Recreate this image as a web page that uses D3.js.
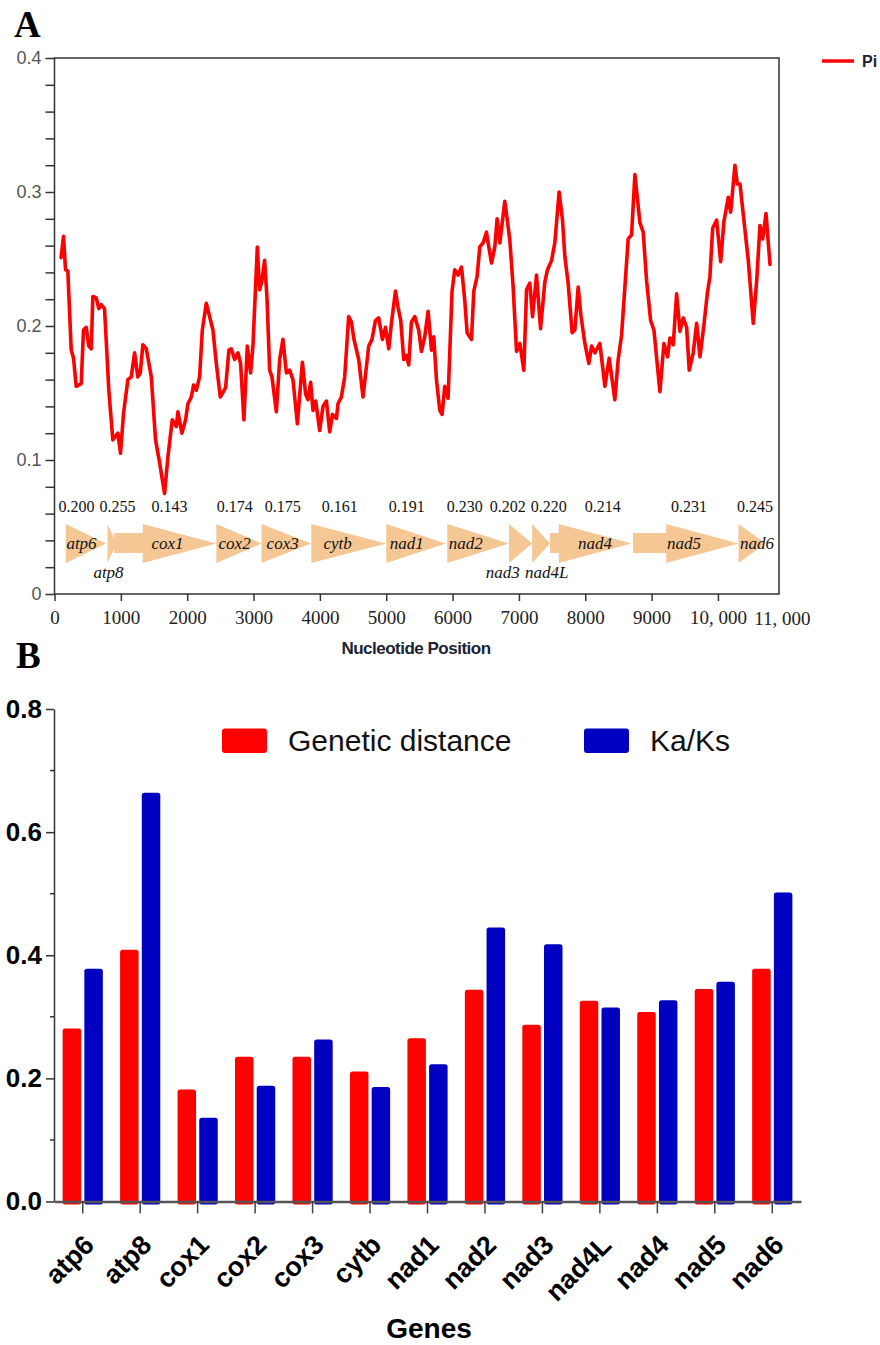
<!DOCTYPE html>
<html>
<head>
<meta charset="utf-8">
<script src="https://cdn.jsdelivr.net/npm/d3@7"></script>
<style>
  html, body { margin: 0; padding: 0; background: #fff; }
  svg { display: block; }
</style>
</head>
<body>
<svg id="chart" width="880" height="1345"></svg>
<script>
// ---------- Panel A data ----------
const piPos = [100,136,166,201,252,287,327,403,437,478,517,554,578,629,668,704,754,819,879,955,995,1041,1106,1157,1207,1256,1293,1332,1383,1459,1523,1584,1659,1709,1775,1836,1860,1920,1976,2011,2062,2097,2137,2187,2228,2288,2388,2439,2499,2579,2629,2665,2715,2765,2805,2855,2906,2956,2991,3057,3092,3127,3167,3202,3243,3278,3344,3394,3443,3495,3544,3594,3661,3736,3786,3821,3861,3896,3937,3997,4047,4098,4148,4189,4249,4273,4324,4374,4434,4475,4514,4585,4650,4691,4736,4786,4837,4887,4943,4988,5038,5078,5139,5178,5219,5264,5305,5339,5380,5430,5490,5531,5581,5631,5682,5716,5757,5807,5842,5882,5932,5992,6033,6083,6134,6184,6219,6285,6320,6370,6410,6460,6511,6546,6587,6637,6671,6712,6787,6822,6863,6913,6964,7014,7074,7115,7164,7205,7265,7326,7391,7431,7492,7541,7606,7657,7692,7742,7802,7843,7893,7934,7994,8054,8095,8145,8220,8296,8360,8446,8496,8547,8647,8698,8748,8824,8873,8924,8985,9035,9084,9125,9186,9241,9276,9326,9377,9427,9477,9528,9567,9627,9679,9729,9789,9839,9879,9920,9980,10041,10090,10155,10192,10256,10291,10332,10382,10457,10532,10584,10633,10674,10724,10784];
const piVal = [0.251,0.267,0.242,0.241,0.182,0.176,0.155,0.157,0.197,0.199,0.185,0.183,0.222,0.221,0.213,0.216,0.213,0.152,0.115,0.120,0.105,0.135,0.160,0.162,0.180,0.162,0.165,0.186,0.183,0.162,0.115,0.098,0.075,0.102,0.130,0.125,0.136,0.120,0.130,0.142,0.147,0.156,0.152,0.162,0.197,0.217,0.197,0.172,0.147,0.154,0.182,0.183,0.175,0.180,0.172,0.130,0.185,0.165,0.185,0.259,0.227,0.234,0.249,0.222,0.167,0.162,0.136,0.175,0.190,0.165,0.167,0.160,0.127,0.173,0.149,0.145,0.158,0.137,0.144,0.122,0.140,0.144,0.121,0.134,0.131,0.142,0.147,0.162,0.207,0.203,0.190,0.175,0.147,0.165,0.185,0.190,0.204,0.206,0.190,0.199,0.183,0.202,0.226,0.214,0.204,0.175,0.178,0.171,0.203,0.207,0.197,0.181,0.192,0.211,0.182,0.192,0.160,0.137,0.134,0.155,0.146,0.226,0.242,0.238,0.244,0.219,0.195,0.190,0.226,0.237,0.259,0.262,0.270,0.259,0.247,0.259,0.280,0.262,0.293,0.280,0.264,0.229,0.181,0.187,0.167,0.227,0.232,0.207,0.238,0.198,0.233,0.242,0.249,0.262,0.300,0.279,0.252,0.232,0.195,0.197,0.229,0.208,0.187,0.172,0.185,0.180,0.187,0.155,0.176,0.145,0.175,0.193,0.265,0.268,0.313,0.277,0.270,0.234,0.204,0.197,0.172,0.151,0.187,0.177,0.191,0.186,0.224,0.196,0.206,0.199,0.167,0.180,0.202,0.177,0.201,0.224,0.237,0.273,0.279,0.248,0.278,0.296,0.285,0.320,0.306,0.306,0.283,0.249,0.202,0.234,0.275,0.265,0.284,0.246];

const geneNames = ["atp6","atp8","cox1","cox2","cox3","cytb","nad1","nad2","nad3","nad4L","nad4","nad5","nad6"];
const geneStart = [170, 800, 900, 2440, 3120, 3870, 5000, 5920, 6850, 7200, 7470, 8720, 10310];
const geneHead  = [170, 800, 1330, 2440, 3120, 3870, 5000, 5920, 6850, 7200, 7600, 9220, 10310];
const geneEnd   = [780, 935, 2440, 3120, 3870, 5000, 5900, 6850, 7200, 7470, 8700, 10310, 10720];
const genePi    = [0.200,0.255,0.143,0.174,0.175,0.161,0.191,0.230,0.202,0.220,0.214,0.231,0.245];
const genePiAt  = [332, 950, 1735, 2715, 3439, 4299, 5309, 6184, 6833, 7451, 8265, 9563, 10558];
const geneNameAt= [407, 814, 1704, 2715, 3439, 4268, 5309, 6199, 6757, 7421, 8145, 9487, 10588];
const geneNameBelow = ["atp8","nad3","nad4L"];

const xTicksA = [0,1000,2000,3000,4000,5000,6000,7000,8000,9000,10000];
const xTickLabelsA = ["0","1000","2000","3000","4000","5000","6000","7000","8000","9000","10, 000"];
const yTicksA = [0,0.1,0.2,0.3,0.4];

// ---------- Panel B data ----------
const barGenes = ["atp6","atp8","cox1","cox2","cox3","cytb","nad1","nad2","nad3","nad4L","nad4","nad5","nad6"];
const geneticDistance = [0.281,0.409,0.182,0.235,0.235,0.211,0.265,0.344,0.287,0.326,0.308,0.345,0.378];
const kaKs = [0.378,0.664,0.136,0.188,0.263,0.186,0.223,0.445,0.418,0.315,0.327,0.357,0.502];
const seriesNames = ["Genetic distance","Ka/Ks"];
const seriesColors = ["#ff0000","#0000c0"];
const yTicksB = [0,0.2,0.4,0.6,0.8];

const svg = d3.select("#chart");
const serif = "'Liberation Serif','Times New Roman',serif";
const sans = "'Liberation Sans',Arial,Helvetica,sans-serif";

// ================= Panel A =================
const A = { left: 54.5, right: 779, top: 58, bottom: 594 };
const xA = d3.scaleLinear().domain([0, 10920]).range([A.left, A.right]);
const yA = d3.scaleLinear().domain([0, 0.4]).range([A.bottom, A.top]);

const gA = svg.append("g");

svg.append("text").attr("x", 14).attr("y", 37).text("A")
  .attr("font-family", serif).attr("font-weight", "bold").attr("font-size", 37).attr("fill", "#000");

// frame
gA.append("rect").attr("x", A.left).attr("y", A.top)
  .attr("width", A.right - A.left).attr("height", A.bottom - A.top)
  .attr("fill", "none").attr("stroke", "#333").attr("stroke-width", 1.5);

// y axis
const yAxisA = d3.axisLeft(yA).tickValues(d3.range(0, 0.4001, 0.02)).tickSize(9)
  .tickFormat(d => {
    const r = Math.round(d * 100) / 100;
    if (yTicksA.some(t => Math.abs(t - r) < 1e-6)) return r === 0 ? "0" : d3.format(".1f")(r);
    return "";
  });
const gyA = gA.append("g").attr("transform", `translate(${A.left},0)`).call(yAxisA);
gyA.select(".domain").remove();
gyA.selectAll("line").attr("stroke", "#333").attr("stroke-width", 1.5);
gyA.selectAll("text").attr("font-family", sans).attr("font-size", 18).attr("fill", "#555").attr("dx", -1);

// x axis
const xAxisA = d3.axisBottom(xA).tickValues(xTicksA).tickSize(7)
  .tickFormat((d, i) => xTickLabelsA[i]);
const gxA = gA.append("g").attr("transform", `translate(0,${A.bottom})`).call(xAxisA);
gxA.select(".domain").remove();
gxA.selectAll("line").attr("stroke", "#333").attr("stroke-width", 1.5);
gxA.selectAll("text").attr("font-family", serif).attr("font-size", 19).attr("fill", "#222").attr("dy", "1.05em");
gA.append("text").attr("x", xA(10970)).attr("y", 625).attr("text-anchor", "middle")
  .attr("font-family", serif).attr("font-size", 19).attr("fill", "#222").text("11, 000");

gA.append("text").attr("x", 416).attr("y", 654).attr("text-anchor", "middle")
  .attr("font-family", sans).attr("font-weight", "bold").attr("font-size", 17)
  .attr("letter-spacing", -0.5).attr("fill", "#1b2233").text("Nucleotide Position");

// gene arrows
const arrTop = 524, arrBot = 563, arrMid = 543.5, shTop = 533, shBot = 553;
geneNames.forEach((g, i) => {
  const s = xA(geneStart[i]), h = xA(geneHead[i]), e = xA(geneEnd[i]);
  let p;
  if (geneHead[i] === geneStart[i]) {
    p = `M${s},${arrTop}L${e},${arrMid}L${s},${arrBot}Z`;
  } else {
    p = `M${s},${shTop}L${h},${shTop}L${h},${arrTop}L${e},${arrMid}L${h},${arrBot}L${h},${shBot}L${s},${shBot}Z`;
  }
  gA.append("path").attr("d", p).attr("fill", "#f5c795");
});
geneNames.forEach((g, i) => {
  const below = geneNameBelow.includes(g);
  gA.append("text").attr("x", xA(geneNameAt[i])).attr("y", below ? 578 : 549)
    .attr("text-anchor", "middle").attr("font-family", serif).attr("font-style", "italic")
    .attr("font-size", 17).attr("fill", "#111").text(g);
  gA.append("text").attr("x", xA(genePiAt[i])).attr("y", 512)
    .attr("text-anchor", "middle").attr("font-family", serif)
    .attr("font-size", 16).attr("fill", "#111").text(d3.format(".3f")(genePi[i]));
});

// Pi line
const piData = piPos.map((p, i) => [p, piVal[i]]);
gA.append("path").datum(piData)
  .attr("d", d3.line().x(d => xA(d[0])).y(d => yA(d[1])))
  .attr("fill", "none").attr("stroke", "#ff0000").attr("stroke-width", 3.6)
  .attr("stroke-linejoin", "round").attr("stroke-linecap", "round");

// legend
gA.append("line").attr("x1", 822).attr("x2", 854).attr("y1", 61).attr("y2", 61)
  .attr("stroke", "#ff0000").attr("stroke-width", 3.5);
gA.append("text").attr("x", 862).attr("y", 67).text("Pi")
  .attr("font-family", sans).attr("font-weight", "bold").attr("font-size", 16).attr("fill", "#1b2233");

// ================= Panel B =================
const B = { left: 54, right: 801, top: 709, bottom: 1201.5 };
const xB = d3.scaleBand().domain(barGenes).range([B.left, B.right]);
const yB = d3.scaleLinear().domain([0, 0.8]).range([B.bottom, B.top]);
const gB = svg.append("g");

svg.append("text").attr("x", 16).attr("y", 668).text("B")
  .attr("font-family", serif).attr("font-weight", "bold").attr("font-size", 37).attr("fill", "#000");

// bars
const barW = 18.5, gap = 1.6;
const series = [geneticDistance, kaKs];
series.forEach((vals, si) => {
  gB.selectAll(null).data(barGenes).enter().append("rect")
    .attr("x", d => {
      const c = xB(d) + xB.bandwidth() / 2;
      return si === 0 ? c - gap - barW : c + gap;
    })
    .attr("y", (d, i) => yB(vals[i]))
    .attr("width", barW)
    .attr("height", (d, i) => yB(0) - yB(vals[i]) + 3)
    .attr("rx", 2.5)
    .attr("fill", seriesColors[si]);
});

// y axis
const yAxisB = d3.axisLeft(yB).tickValues(yTicksB).tickSize(8).tickPadding(4).tickSizeOuter(0)
  .tickFormat(d3.format(".1f"));
const gyB = gB.append("g").attr("transform", `translate(${B.left},0)`).call(yAxisB);
gyB.select(".domain").attr("stroke", "#333").attr("stroke-width", 1.5);
gyB.selectAll(".tick line").attr("stroke", "#333").attr("stroke-width", 1.5);
gyB.selectAll("text").attr("font-family", sans).attr("font-weight", "bold").attr("font-size", 26).attr("fill", "#000");
gyB.selectAll(null).data([0.1, 0.3, 0.5, 0.7]).enter().append("line")
  .attr("x1", -4).attr("x2", 0).attr("y1", d => yB(d)).attr("y2", d => yB(d))
  .attr("stroke", "#333").attr("stroke-width", 1.5);

// x axis
const xAxisB = d3.axisBottom(xB).tickSize(12).tickSizeOuter(0).tickFormat("");
const gxB = gB.append("g").attr("transform", `translate(0,${B.bottom})`).call(xAxisB);
gxB.select(".domain").attr("stroke", "#555").attr("stroke-width", 2.5);
gxB.selectAll(".tick line").attr("stroke", "#444").attr("stroke-width", 1.5);
gB.selectAll(null).data(barGenes).enter().append("text")
  .attr("transform", d => `translate(${xB(d) + xB.bandwidth() / 2 + 13},${B.bottom + 45}) rotate(-45)`)
  .attr("text-anchor", "end")
  .attr("font-family", sans).attr("font-weight", "bold")
  .attr("font-size", 27).attr("fill", "#000").text(d => d);

gB.append("text").attr("x", 429).attr("y", 1338).attr("text-anchor", "middle")
  .attr("font-family", sans).attr("font-weight", "bold").attr("font-size", 28).attr("fill", "#000").text("Genes");

// legend
const legX = [222, 584], legTextX = [288, 650];
seriesNames.forEach((n, i) => {
  gB.append("rect").attr("x", legX[i]).attr("y", 728.5).attr("width", 45).attr("height", 24.5)
    .attr("rx", 3).attr("fill", seriesColors[i]);
  gB.append("text").attr("x", legTextX[i]).attr("y", 751).attr("font-family", sans)
    .attr("font-size", 30).attr("fill", "#111").text(n);
});
</script>
</body>
</html>
